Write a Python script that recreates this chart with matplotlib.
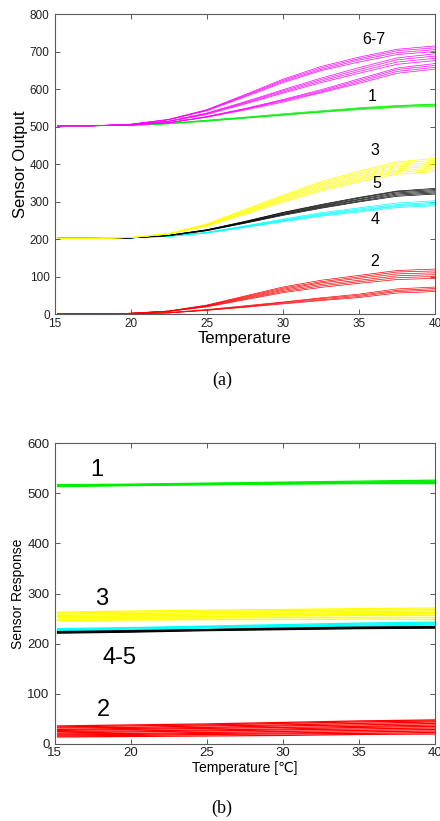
import matplotlib
matplotlib.use('Agg')
import matplotlib.pyplot as plt

plt.rcParams['font.family'] = ['Liberation Sans', 'DejaVu Sans']

# ---- panel (a): sensor output vs temperature ----
temp_a = [15.2, 17.5, 20, 22.5, 25, 27.5, 30, 32.5, 35, 37.5, 40]

magenta_a = [
    [502, 502, 506, 519, 545, 585, 626, 660, 685, 706, 715],
    [502, 502, 506, 519, 544, 583, 623, 656, 681, 702, 710],
    [502, 502, 506, 518, 543, 581, 620, 652, 677, 697, 705],
    [502, 502, 506, 518, 542, 579, 617, 649, 672, 692, 700],
    [502, 502, 505, 514, 536, 566, 598, 629, 657, 683, 694],
    [502, 502, 505, 514, 535, 564, 595, 625, 652, 678, 688],
    [502, 502, 505, 514, 534, 562, 592, 621, 647, 672, 682],
    [502, 502, 505, 513, 532, 560, 589, 617, 642, 666, 676],
    [502, 502, 504, 510, 527, 548, 572, 598, 627, 656, 668],
    [502, 502, 504, 510, 526, 547, 570, 595, 623, 652, 663],
    [502, 502, 504, 510, 525, 546, 568, 592, 619, 647, 658],
    [502, 502, 504, 510, 525, 544, 565, 590, 615, 642, 653],
]
green_a = [
    [502, 502, 503, 507, 514, 522, 530, 538, 545, 551, 554],
    [502, 502, 503, 508, 515, 523, 531, 539, 547, 553, 557],
    [502, 502, 503, 508, 516, 524, 532, 540, 548, 555, 559],
    [502, 502, 504, 509, 517, 525, 534, 542, 550, 556, 560],
]
yellow_a = [
    [202, 202, 204, 215, 240, 279, 317, 353, 381, 406, 415],
    [202, 202, 204, 214, 239, 277, 314, 350, 377, 402, 410],
    [202, 202, 204, 214, 239, 275, 312, 346, 373, 397, 405],
    [202, 202, 204, 214, 238, 273, 309, 343, 368, 392, 400],
    [202, 202, 204, 214, 237, 271, 306, 339, 364, 387, 395],
    [202, 202, 204, 213, 236, 270, 304, 335, 360, 382, 390],
    [202, 202, 204, 213, 235, 268, 301, 332, 356, 378, 385],
    [202, 202, 204, 213, 234, 266, 298, 328, 352, 373, 380],
]
black_a = [
    [202, 202, 203, 210, 225, 247, 271, 292, 311, 328, 335],
    [202, 202, 203, 210, 224, 246, 270, 290, 309, 326, 332],
    [202, 202, 203, 210, 224, 245, 268, 288, 306, 323, 329],
    [202, 202, 203, 209, 223, 244, 266, 286, 304, 320, 326],
    [202, 202, 203, 209, 223, 243, 265, 284, 301, 317, 323],
    [202, 202, 203, 209, 222, 242, 263, 282, 299, 314, 320],
]
cyan_a = [
    [202, 202, 203, 208, 218, 235, 253, 270, 283, 296, 302],
    [202, 202, 203, 208, 217, 234, 251, 267, 280, 292, 298],
    [202, 202, 203, 208, 217, 233, 249, 265, 277, 289, 295],
    [202, 202, 203, 207, 216, 232, 248, 263, 275, 287, 292],
    [202, 202, 203, 207, 216, 231, 246, 261, 272, 284, 289],
]
red_a = [
    [0, 0, 2, 8, 24, 48, 72, 90, 103, 116, 120],
    [0, 0, 2, 8, 23, 46, 69, 86, 99, 112, 115],
    [0, 0, 2, 8, 22, 44, 66, 83, 95, 107, 110],
    [0, 0, 2, 7, 21, 42, 63, 79, 90, 102, 105],
    [0, 0, 2, 7, 20, 40, 60, 75, 86, 97, 100],
    [0, 0, 2, 7, 19, 38, 57, 71, 82, 92, 95],
    [0, 0, 1, 4, 12, 22, 32, 43, 53, 67, 72],
    [0, 0, 1, 3, 11, 20, 31, 41, 50, 63, 68],
    [0, 0, 1, 3, 10, 19, 29, 38, 47, 60, 64],
    [0, 0, 1, 3, 10, 18, 27, 36, 44, 56, 60],
]
labels_a = ['6-7', '1', '3', '5', '4', '2']
label_x_a = [36.0, 35.9, 36.05, 36.2, 36.05, 36.05]
label_y_a = [731, 579, 437, 347, 251, 139]

# ---- panel (b): compensated sensor response ----
temp_b = [15.2, 20, 25, 30, 35, 40]

green_b = [
    [514, 516, 517, 519, 520, 521],
    [515, 517, 518, 520, 521, 523],
    [516, 517, 519, 521, 522, 524],
    [513, 515, 517, 518, 519, 519],
    [517, 518, 520, 522, 524, 526],
]
yellow_b = [
    [246, 247, 248, 248, 249, 248],
    [249, 250, 251, 252, 252, 252],
    [251, 253, 254, 255, 256, 256],
    [254, 255, 257, 258, 258, 259],
    [256, 258, 259, 260, 262, 262],
    [259, 260, 262, 263, 264, 265],
    [261, 263, 264, 266, 267, 268],
    [263, 265, 267, 268, 270, 271],
]
cyan_b = [
    [226, 228, 231, 233, 235, 237],
    [227, 229, 232, 235, 237, 239],
    [228, 231, 234, 236, 239, 241],
    [230, 232, 235, 238, 241, 243],
]
black_b = [
    [221, 223, 226, 228, 230, 231],
    [222, 224, 227, 229, 231, 232],
    [223, 225, 228, 230, 232, 233],
    [224, 226, 228, 231, 233, 234],
]
red_b = [
    [14, 15, 16, 17, 19, 20],
    [16, 17, 19, 20, 21, 23],
    [18, 19, 21, 22, 24, 26],
    [20, 21, 23, 25, 27, 29],
    [22, 24, 26, 28, 30, 32],
    [25, 26, 28, 30, 33, 35],
    [27, 29, 31, 33, 35, 38],
    [29, 31, 33, 36, 38, 41],
    [32, 33, 36, 38, 41, 44],
    [34, 36, 38, 41, 44, 46],
    [36, 38, 40, 43, 46, 48],
]
labels_b = ['1', '3', '4-5', '2']
label_x_b = [17.8, 18.1, 19.3, 18.2]
label_y_b = [546, 289, 172, 68]

FRAME = '#5a5a5a'


def style_axes(ax, ymax, tick_size):
    ax.set_xlim(15, 40)
    ax.set_ylim(0, ymax)
    ax.set_xticks(range(15, 41, 5))
    ax.set_yticks(range(0, ymax + 1, 100))
    ax.tick_params(direction='in', top=True, right=True, length=3.5,
                   width=0.7, color=FRAME, labelsize=tick_size,
                   labelcolor='#222222', pad=2.5)
    ax.tick_params(axis='y', pad=3.5)
    for s in ax.spines.values():
        s.set_color(FRAME)
        s.set_linewidth(0.8)


fig = plt.figure(figsize=(4.4, 8.21), dpi=100)

ax1 = fig.add_axes([0.1239, 0.6175, 0.8648, 0.3654])
for group, col in [(red_a, '#ff0000'), (green_a, '#00ee00'), (cyan_a, '#00ffff'),
                   (black_a, '#000000'), (yellow_a, '#ffff00'), (magenta_a, '#ff00ff')]:
    for row in group:
        ax1.plot(temp_a, row, color=col, lw=0.5)
for t, x, y in zip(labels_a, label_x_a, label_y_a):
    ax1.text(x, y, t, fontsize=11.5, ha='center', va='center')
style_axes(ax1, 800, 8.5)
ax1.set_xlabel('Temperature', fontsize=12)
ax1.set_ylabel('Sensor Output', fontsize=12)
ax1.xaxis.set_label_coords(0.5, -0.055)
ax1.yaxis.set_label_coords(-0.07, 0.5)

ax2 = fig.add_axes([0.1239, 0.0938, 0.8648, 0.3666])
for group, col in [(green_b, '#00ee00'), (yellow_b, '#ffff00'), (cyan_b, '#00ffff'),
                   (black_b, '#000000'), (red_b, '#ff0000')]:
    for row in group:
        ax2.plot(temp_b, row, color=col, lw=0.9)
for t, x, y in zip(labels_b, label_x_b, label_y_b):
    ax2.text(x, y, t, fontsize=17, ha='center', va='center')
style_axes(ax2, 600, 9.5)
ax2.set_xlabel('Temperature [\u2103]', fontsize=10)
ax2.set_ylabel('Sensor Response', fontsize=10)
ax2.xaxis.set_label_coords(0.5, -0.055)
ax2.yaxis.set_label_coords(-0.078, 0.5)

fig.text(222 / 440, 1 - 380 / 821, '(a)', family='Liberation Serif', fontsize=13,
         ha='center', va='center')
fig.text(222 / 440, 1 - 808 / 821, '(b)', family='Liberation Serif', fontsize=13,
         ha='center', va='center')

fig.savefig('out.png', dpi=100)
